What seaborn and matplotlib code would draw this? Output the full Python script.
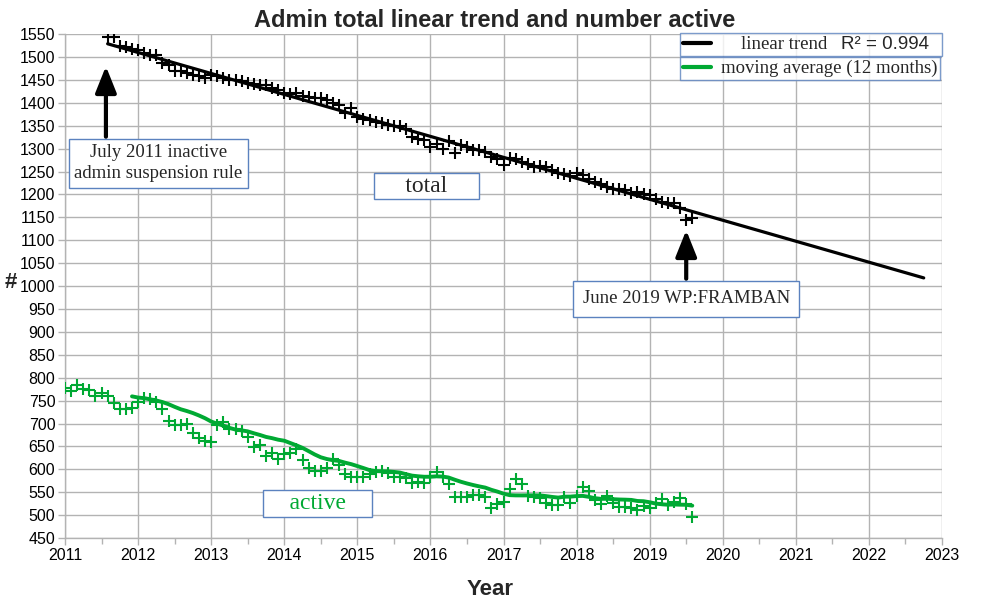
import numpy as np
import pandas as pd
import matplotlib
matplotlib.use("Agg")
import matplotlib.pyplot as plt
import seaborn as sns
from matplotlib.lines import Line2D
from matplotlib.ticker import MultipleLocator

# ---------------- data ----------------
total_start = "2011-08"
total_values = [
    1543, 1543, 1525, 1522, 1517, 1515, 1508, 1505, 1505, 1487, 1482, 1469,
    1469, 1465, 1461, 1458, 1454, 1461, 1458, 1454, 1450, 1450, 1448, 1444,
    1441, 1439, 1439, 1432, 1428, 1422, 1419, 1421, 1415, 1412, 1410, 1410,
    1407, 1399, 1395, 1378, 1388, 1370, 1364, 1362, 1359, 1356, 1351, 1349,
    1349, 1342, 1325, 1322, 1320, 1304, 1311, 1300, 1317, 1291, 1308, 1304,
    1298, 1297, 1293, 1282, 1277, 1264, 1279, 1277, 1271, 1266, 1260, 1262,
    1259, 1253, 1247, 1244, 1240, 1246, 1242, 1233, 1228, 1223, 1217, 1211,
    1213, 1210, 1204, 1206, 1201, 1199, 1191, 1184, 1182, 1181, 1170, 1144,
    1148,
]
active_start = "2011-01"
active_values = [
    777, 771, 785, 775, 773, 761, 766, 761, 744, 732, 732, 734,
    746, 755, 753, 746, 732, 705, 697, 697, 698, 679, 668, 662,
    660, 697, 704, 687, 687, 684, 671, 648, 653, 628, 635, 622,
    633, 636, 644, 620, 602, 597, 597, 602, 622, 609, 590, 583,
    583, 584, 590, 595, 597, 593, 584, 584, 580, 571, 573, 571,
    583, 595, 584, 569, 540, 540, 539, 544, 544, 539, 515, 524,
    529, 556, 578, 568, 542, 540, 537, 526, 522, 522, 539, 526,
    542, 562, 553, 533, 524, 542, 526, 518, 518, 515, 511, 520,
    515, 527, 535, 522, 529, 537, 524, 495,
]
moving_window = 12
trend_end = 2022.75
x_ticks = list(range(2011, 2024))
y_ticks = list(range(450, 1551, 50))

title = "Admin total linear trend and number active"
x_label = "Year"
y_label = "#"
legend_trend = "linear trend"
legend_r2 = "R² = 0.994"
legend_ma = "moving average (12 months)"
note_2011 = "July 2011 inactive\nadmin suspension rule"
note_2019 = "June 2019 WP:FRAMBAN"
label_total = "total"
label_active = "active"

GREEN = "#00a933"
GRID = "#b3b3b3"
BOX = "#5b82bf"


def decimal_months(start, n):
    d = pd.date_range(start, periods=n, freq="MS")
    return np.asarray(d.year + (d.month - 1) / 12.0, dtype=float)


tx = decimal_months(total_start, len(total_values))
ax_dates = decimal_months(active_start, len(active_values))
ma = pd.Series(active_values, index=ax_dates).rolling(moving_window).mean().dropna()

slope, intercept = np.polyfit(tx, np.asarray(total_values, float), 1)
trend_x = np.array([tx[0], trend_end])
trend_y = intercept + slope * trend_x

# ---------------- figure ----------------
sns.set_theme(style="whitegrid")
plt.rcParams["font.family"] = ["Liberation Sans", "DejaVu Sans"]

fig = plt.figure(figsize=(10, 6.1), dpi=100)
ax = fig.add_axes([0.065, 0.118, 0.877, 0.826])

sns.scatterplot(x=tx, y=total_values, marker="+", color="black", s=85,
                linewidth=1.5, ax=ax, zorder=3)
sns.scatterplot(x=ax_dates, y=active_values, marker="+", color=GREEN, s=85,
                linewidth=1.5, ax=ax, zorder=3)
sns.lineplot(x=trend_x, y=trend_y, color="black", linewidth=2.3, ax=ax, zorder=4)
sns.lineplot(x=ma.index.values, y=ma.values, color=GREEN, linewidth=2.8, ax=ax, zorder=4)

ax.set_xlim(x_ticks[0], x_ticks[-1])
ax.set_ylim(y_ticks[0], y_ticks[-1])
ax.set_xticks(x_ticks)
ax.set_yticks(y_ticks)
ax.xaxis.set_minor_locator(MultipleLocator(0.5))
ax.set_xticklabels([str(t) for t in x_ticks])
ax.set_yticklabels([str(t) for t in y_ticks])
ax.tick_params(axis="both", which="major", labelsize=11.5, colors=GRID,
               labelcolor="black", direction="out", length=5, width=1,
               bottom=True, left=True, pad=2)
ax.tick_params(axis="x", which="minor", colors=GRID, direction="out",
               length=4, width=1, bottom=True)
ax.grid(True, which="major", color=GRID, linewidth=1)
ax.grid(False, which="minor")
ax.set_facecolor("white")
for side in ["top", "right"]:
    ax.spines[side].set_visible(False)
for side in ["left", "bottom"]:
    ax.spines[side].set_color(GRID)
    ax.spines[side].set_linewidth(1)
ax.set_xlabel("")
ax.set_ylabel("")

fig.text(0.495, 0.967, title, ha="center", va="center", fontsize=17,
         fontweight="bold")
fig.text(0.49, 0.034, x_label, ha="center", va="center", fontsize=16,
         fontweight="bold")
fig.text(0.011, 0.537, y_label, ha="center", va="center", fontsize=16,
         fontweight="bold")

serif = ["Liberation Serif", "DejaVu Serif"]

# annotations
arrow_kw = dict(arrowstyle="-|>,head_length=1.0,head_width=0.4", lw=3,
                color="black", mutation_scale=16, shrinkA=0, shrinkB=0)
ax.annotate("", xy=(2011.56, 1480), xytext=(2011.56, 1326), arrowprops=arrow_kw,
            zorder=5)
ax.text(2012.28, 1268, note_2011, ha="center", va="center", fontsize=13.5,
        family=serif, linespacing=1.3, zorder=6,
        bbox=dict(boxstyle="square,pad=0.28", fc="white", ec=BOX, lw=1))

ax.annotate("", xy=(2019.5, 1122), xytext=(2019.5, 1016), arrowprops=arrow_kw,
            zorder=5)
ax.text(2019.5, 972, note_2019, ha="center", va="center", fontsize=13.5,
        family=serif, zorder=6,
        bbox=dict(boxstyle="square,pad=0.5", fc="white", ec=BOX, lw=1))

ax.text(2015.95, 1218, "     " + label_total + "     ", ha="center",
        va="center", fontsize=17, family=serif, zorder=6,
        bbox=dict(boxstyle="square,pad=0.1", fc="white", ec=BOX, lw=1))
ax.text(2014.46, 526, "    " + label_active + "    ", ha="center", va="center",
        fontsize=17, family=serif, color=GREEN, zorder=6,
        bbox=dict(boxstyle="square,pad=0.12", fc="white", ec=BOX, lw=1))

# legends (two stacked boxes)
h1 = Line2D([], [], color="black", lw=3)
h_blank = Line2D([], [], color="none", lw=0)
h2 = Line2D([], [], color=GREEN, lw=3)
leg_kw = dict(loc="upper right", borderaxespad=0, frameon=True, fancybox=False,
              handlelength=1.5, borderpad=0.15,
              prop={"family": serif, "size": 13.5})
leg1 = ax.legend([h1, h_blank], ["    " + legend_trend, legend_r2 + "  "],
                 ncol=2, columnspacing=-1.4, handletextpad=0.6,
                 bbox_to_anchor=(1.0, (538 - 33) / 504), **leg_kw)
leg1.get_texts()[1].set_family(["Liberation Sans", "DejaVu Sans"])
leg1.get_frame().set_edgecolor(BOX)
leg1.get_frame().set_linewidth(1)
leg1.set_zorder(7)
ax.add_artist(leg1)
leg2 = ax.legend([h2], [legend_ma], handletextpad=0.5,
                 bbox_to_anchor=(0.9977, (538 - 57) / 504), **leg_kw)
leg2.get_frame().set_edgecolor(BOX)
leg2.get_frame().set_linewidth(1)
leg2.set_zorder(7)

fig.savefig("out.png", dpi=100)
